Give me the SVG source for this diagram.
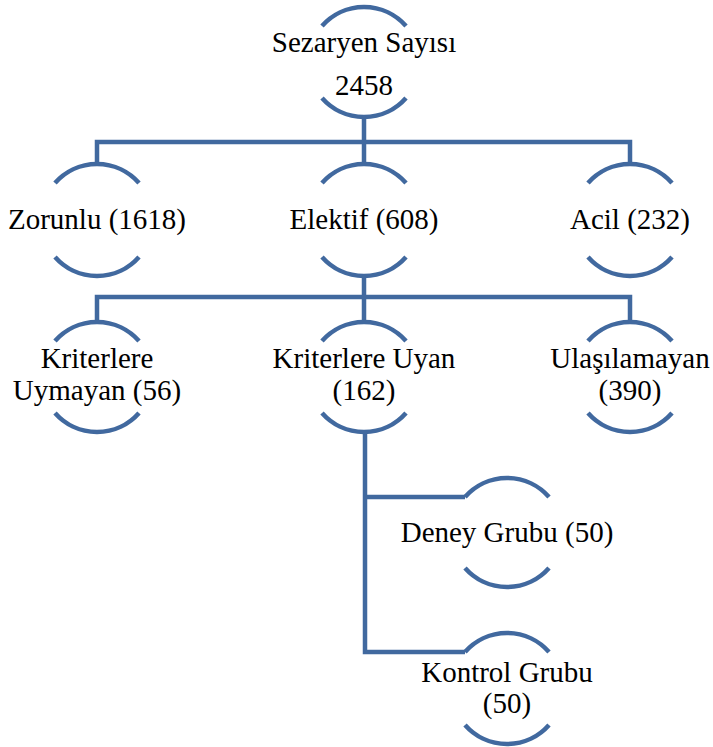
<svg xmlns="http://www.w3.org/2000/svg" width="713" height="747" viewBox="0 0 713 747">
<style>
.arc{fill:none;stroke:#41699f;stroke-width:4.5}
.con{fill:none;stroke:#41699f;stroke-width:4.5;stroke-linejoin:miter}
.t{font-size:29px;fill:#000;text-anchor:middle}
</style>
<rect width="713" height="747" fill="#fff"/>
<g id="connectors">
<path class="con" d="M364 118V142M97 165V142H630V165M364 142V165"/>
<path class="con" d="M364 275V297M97 324V297H630V324M364 297V324"/>
<path class="con" d="M365 430V652H465M365 497H465"/>
</g>
<g font-family="Liberation Serif, Times New Roman, serif">
<g id="root">
<path class="arc" d="M322 26A56 56 0 0 1 406 26"/>
<path class="arc" d="M322 98A56 56 0 0 0 406 98"/>
<text class="t" x="364" y="52">Sezaryen Sayısı</text>
<text class="t" x="364" y="95">2458</text>
</g>
<g id="zorunlu">
<path class="arc" d="M55 183A56 56 0 0 1 139 183"/>
<path class="arc" d="M55 257A56 56 0 0 0 139 257"/>
<text class="t" x="97" y="229">Zorunlu (1618)</text>
</g>
<g id="elektif">
<path class="arc" d="M322 183A56 56 0 0 1 406 183"/>
<path class="arc" d="M322 257A56 56 0 0 0 406 257"/>
<text class="t" x="364" y="229">Elektif (608)</text>
</g>
<g id="acil">
<path class="arc" d="M588 183A56 56 0 0 1 672 183"/>
<path class="arc" d="M588 257A56 56 0 0 0 672 257"/>
<text class="t" x="630" y="229">Acil (232)</text>
</g>
<g id="uymayan">
<path class="arc" d="M55 341A56 56 0 0 1 139 341"/>
<path class="arc" d="M55 413A56 56 0 0 0 139 413"/>
<text class="t" x="97" y="368">Kriterlere</text>
<text class="t" x="97" y="400">Uymayan (56)</text>
</g>
<g id="uyan">
<path class="arc" d="M322 341A56 56 0 0 1 406 341"/>
<path class="arc" d="M322 413A56 56 0 0 0 406 413"/>
<text class="t" x="364" y="368">Kriterlere Uyan</text>
<text class="t" x="364" y="400">(162)</text>
</g>
<g id="ulasilamayan">
<path class="arc" d="M588 341A56 56 0 0 1 672 341"/>
<path class="arc" d="M588 413A56 56 0 0 0 672 413"/>
<text class="t" x="630" y="368">Ulaşılamayan</text>
<text class="t" x="630" y="400">(390)</text>
</g>
<g id="deney">
<path class="arc" d="M465 497A56 56 0 0 1 549 497"/>
<path class="arc" d="M465 568A56 56 0 0 0 549 568"/>
<text class="t" x="507" y="542">Deney Grubu (50)</text>
</g>
<g id="kontrol">
<path class="arc" d="M465 652A56 56 0 0 1 549 652"/>
<path class="arc" d="M465 725A56 56 0 0 0 549 725"/>
<text class="t" x="507" y="682">Kontrol Grubu</text>
<text class="t" x="507" y="713">(50)</text>
</g>
</g>
</svg>
